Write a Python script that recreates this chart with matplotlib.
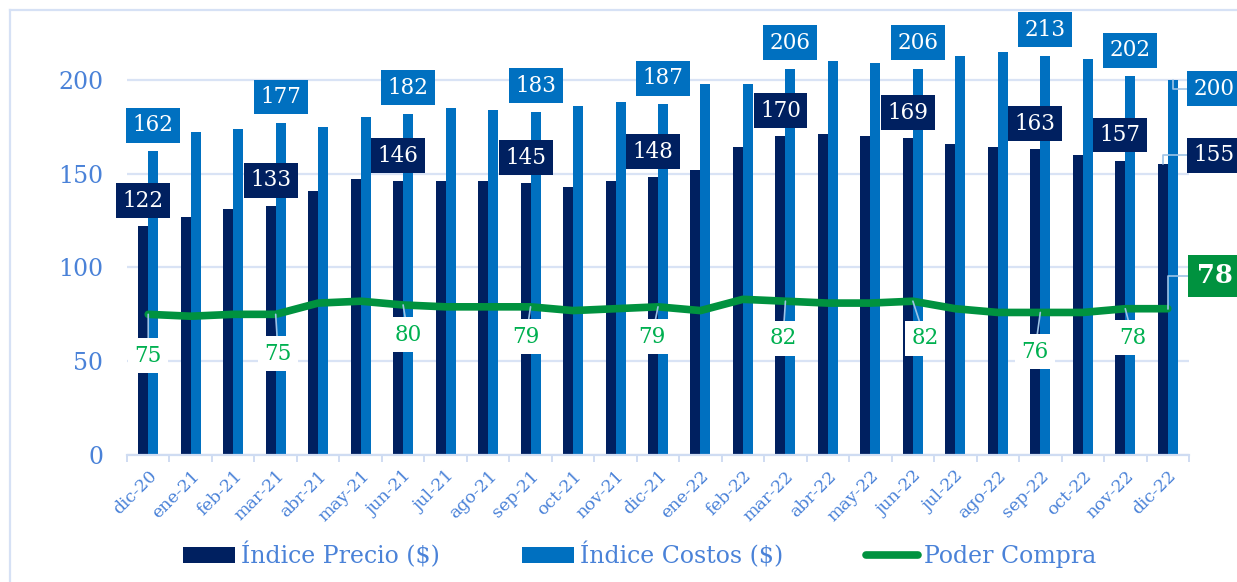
import matplotlib
matplotlib.use("Agg")
import matplotlib.pyplot as plt
import numpy as np
from matplotlib.lines import Line2D

months = ['dic-20','ene-21','feb-21','mar-21','abr-21','may-21','jun-21','jul-21',
          'ago-21','sep-21','oct-21','nov-21','dic-21','ene-22','feb-22','mar-22',
          'abr-22','may-22','jun-22','jul-22','ago-22','sep-22','oct-22','nov-22','dic-22']
precio = [122,127,131,133,141,147,146,146,146,145,143,146,148,152,164,170,171,170,169,166,164,163,160,157,155]
costos = [162,172,174,177,175,180,182,185,184,183,186,188,187,198,198,206,210,209,206,213,215,213,211,202,200]
poder = [75,74,75,75,81,82,80,79,79,79,77,78,79,77,83,82,81,81,82,78,76,76,76,78,78]
labeled = [0,3,6,9,12,15,18,21,23,24]

# label offsets (pixels) relative to the marks
costos_off = {i: (0, 26) for i in labeled}
costos_off[24] = (41, -9)
precio_off = {i: (0, 25.5) for i in labeled}
precio_off[24] = (51, 9)
poder_off = {0: (0, -41.6), 3: (2.5, -39.6), 6: (5, -30), 9: (-4.5, -30), 12: (-6, -30),
             15: (-2.5, -37), 18: (12, -37), 21: (-5.5, -39.5), 23: (7.5, -29), 24: (47, 33)}

NAVY = '#002060'
BLUE = '#0070C0'
GREEN = '#00923F'
GTEXT = '#00B050'
TXT = '#4A82D8'
GRID = '#D9E3F5'
LEAD = '#9DC3E6'
FONT = 'DejaVu Serif'
plt.rcParams['font.family'] = [FONT, 'DejaVu Sans']

W, H = 1237, 582
fig = plt.figure(figsize=(W/100, H/100), dpi=100)
ax = fig.add_axes([127/W, 1-455/H, (1189-127)/W, (455-33)/H])

x = np.arange(len(months))
bw = 0.235
b1 = ax.bar(x - bw/2, precio, width=bw, color=NAVY, zorder=2, label='Índice Precio ($)')
b2 = ax.bar(x + bw/2, costos, width=bw, color=BLUE, zorder=2, label='Índice Costos ($)')
l1, = ax.plot(x, poder, color=GREEN, lw=5.5, zorder=3, solid_capstyle='round', label='Poder Compra')

ax.set_xlim(-0.5, len(months) - 0.5)
ax.set_ylim(0, 225)
ax.set_yticks([0, 50, 100, 150, 200])
ax.yaxis.grid(True, color=GRID, lw=1.6, zorder=0)
ax.set_axisbelow(True)
for s in ['top', 'right', 'left']:
    ax.spines[s].set_visible(False)
ax.spines['bottom'].set_color('#CFDCF2')
ax.spines['bottom'].set_linewidth(1.6)
ax.tick_params(axis='y', length=0, pad=17, labelsize=17, labelcolor=TXT)
ax.set_xticks(x)
ax.set_xticklabels(months, rotation=45, ha='right', rotation_mode='anchor',
                   fontsize=12.5, color=TXT)
ax.tick_params(axis='x', which='major', length=0, pad=9)
ax.set_xticks(np.arange(-0.5, len(months)), minor=True)
ax.tick_params(axis='x', which='minor', length=5, width=1.4, color='#CFDCF2')

def lab(i, v, xoff, off, txt_color, face, size=15.5, weight='normal', pad=0.3, leader=None):
    kw = {}
    if leader == 'elbow':
        kw['arrowprops'] = dict(arrowstyle='-', color=LEAD, lw=1.2, shrinkA=0, shrinkB=0,
                                connectionstyle='angle,angleA=0,angleB=90,rad=0')
    elif leader == 'straight':
        kw['arrowprops'] = dict(arrowstyle='-', color=LEAD, lw=1.2, shrinkA=0, shrinkB=0)
    ax.annotate(str(v), xy=(i + xoff, v), xytext=off, textcoords='offset pixels',
                ha='center', va='center', fontsize=size, color=txt_color, weight=weight,
                bbox=dict(boxstyle=f'square,pad={pad}', fc=face, ec='none'),
                zorder=5, annotation_clip=False, **kw)

for i in labeled:
    lab(i, costos[i], bw/2, costos_off[i], 'white', BLUE,
        leader='elbow' if i == 24 else None)
    lab(i, precio[i], -bw/2, precio_off[i], 'white', NAVY,
        leader='elbow' if i == 24 else None)
    if i == 24:
        lab(i, poder[i], 0, poder_off[i], 'white', GREEN, size=18.5, weight='bold',
            pad=0.33, leader='elbow')
    else:
        lab(i, poder[i], 0, poder_off[i], GTEXT, 'white', leader='straight')

# legend
leg = fig.legend(handles=[b1, b2, l1], loc='center', bbox_to_anchor=(0.517, 1-555/H), ncol=3,
                 frameon=False, fontsize=17, handlelength=2.2, handleheight=0.7,
                 handletextpad=0.25, columnspacing=3.5, labelcolor=TXT)

# outer frame
fig.add_artist(Line2D([10/W, 10/W], [0, 1-10/H], color='#D6E1F5', lw=1.6))
fig.add_artist(Line2D([10/W, 1], [1-10/H, 1-10/H], color='#D6E1F5', lw=1.6))

fig.savefig('out.png', dpi=100)
